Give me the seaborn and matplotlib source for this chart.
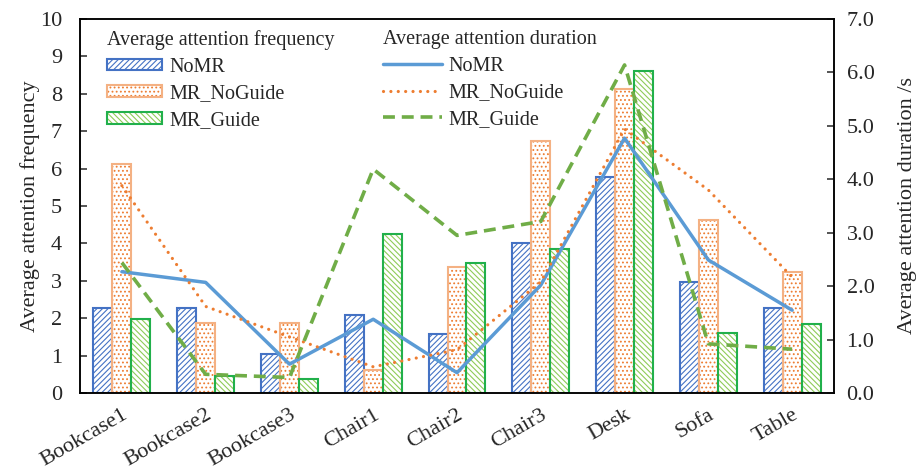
import matplotlib
matplotlib.use("Agg")
import matplotlib.pyplot as plt
import seaborn as sns
import numpy as np
import pandas as pd
from matplotlib.patches import Patch
from matplotlib.lines import Line2D

categories = ["Bookcase1", "Bookcase2", "Bookcase3", "Chair1", "Chair2",
              "Chair3", "Desk", "Sofa", "Table"]
groups = ["NoMR", "MR_NoGuide", "MR_Guide"]

freq_nomr = [2.27, 2.27, 1.04, 2.09, 1.57, 4.02, 5.78, 2.96, 2.26]
freq_noguide = [6.12, 1.86, 1.87, 0.61, 3.38, 6.75, 8.12, 4.62, 3.24]
freq_guide = [1.98, 0.45, 0.37, 4.24, 3.48, 3.86, 8.62, 1.60, 1.84]

dur_nomr = [2.27, 2.07, 0.54, 1.38, 0.38, 2.02, 4.77, 2.49, 1.55]
dur_noguide = [3.88, 1.62, 1.05, 0.49, 0.81, 2.08, 4.94, 3.80, 2.17]
dur_guide = [2.44, 0.35, 0.29, 4.19, 2.95, 3.21, 6.14, 0.92, 0.82]

freq_ticks = list(range(0, 11))
dur_ticks = [0.0, 1.0, 2.0, 3.0, 4.0, 5.0, 6.0, 7.0]

sns.set_theme(style="white")
plt.rcParams["font.family"] = ["Liberation Serif", "DejaVu Serif"]
plt.rcParams["hatch.linewidth"] = 0.8

edge_cols = {"NoMR": "#4472C4", "MR_NoGuide": "#F4B183", "MR_Guide": "#21B04B"}
hatch_cols = {"NoMR": "#4472C4", "MR_NoGuide": "#ED7D31", "MR_Guide": "#8FCB58"}
hatches = {"NoMR": "//////", "MR_NoGuide": "....", "MR_Guide": "\\\\\\\\\\\\"}
line_cols = {"NoMR": "#5B9BD5", "MR_NoGuide": "#ED7D31", "MR_Guide": "#70AD47"}

FS_TICK = 16
FS_LABEL = 16
FS_LEG = 14.5

df = pd.DataFrame({
    "category": categories * 3,
    "group": [g for g in groups for _ in categories],
    "freq": freq_nomr + freq_noguide + freq_guide,
})

fig = plt.figure(figsize=(9.21, 4.76), dpi=100)
ax = fig.add_axes([80 / 921, 1 - 393 / 476, (834 - 80) / 921, (393 - 19) / 476])

# hatch layer
sns.barplot(data=df, x="category", y="freq", hue="group", order=categories,
            hue_order=groups, width=0.68, ax=ax, legend=False, errorbar=None,
            saturation=1)
for cont, g in zip(ax.containers, groups):
    for p in cont:
        p.set_facecolor("white")
        p.set_edgecolor(hatch_cols[g])
        p.set_hatch(hatches[g])
        p.set_linewidth(0)
n_cont = len(ax.containers)
# outline layer
sns.barplot(data=df, x="category", y="freq", hue="group", order=categories,
            hue_order=groups, width=0.68, ax=ax, legend=False, errorbar=None,
            fill=False, saturation=1)
for cont, g in zip(ax.containers[n_cont:], groups):
    for p in cont:
        p.set_edgecolor(edge_cols[g])
        p.set_linewidth(1.5)
        p.set_facecolor("none")

ax.set_ylim(0, 10)
ax.set_xlim(-0.5, len(categories) - 0.5)
ax.set_yticks(freq_ticks)
ax.set_ylabel("Average attention frequency", fontsize=FS_LABEL, labelpad=0)
ax.set_xlabel("")
ax.set_xticks(range(len(categories)))
ax.set_xticklabels(categories, rotation=30, ha="right", rotation_mode="anchor",
                   fontsize=FS_TICK)
ax.tick_params(axis="x", length=0, pad=9)
ax.tick_params(axis="y", direction="in", length=5, width=1.1, labelsize=FS_TICK,
               left=True, pad=13)

ax2 = ax.twinx()
xpos = np.arange(len(categories))
sns.lineplot(x=xpos, y=dur_nomr, ax=ax2, color=line_cols["NoMR"], linewidth=2.5,
             solid_capstyle="round")
sns.lineplot(x=xpos, y=dur_noguide, ax=ax2, color=line_cols["MR_NoGuide"],
             linewidth=2.3, dashes=(0.01, 2.3), dash_capstyle="round")
sns.lineplot(x=xpos, y=dur_guide, ax=ax2, color=line_cols["MR_Guide"],
             linewidth=2.6, dashes=(3.3, 1.9), dash_capstyle="butt")
ax2.set_ylim(0, 7)
ax2.set_yticks(dur_ticks)
ax2.set_yticklabels([f"{t:.1f}" for t in dur_ticks])
ax2.set_ylabel("Average attention duration /s", fontsize=FS_LABEL, labelpad=17)
ax2.tick_params(axis="y", direction="in", length=5, width=1.1, labelsize=FS_TICK,
                right=True, pad=9)
ax2.set_xlim(-0.5, len(categories) - 0.5)

for a in (ax, ax2):
    for s in a.spines.values():
        s.set_visible(True)
        s.set_color("black")
        s.set_linewidth(1.1)

bar_handles = [Patch(facecolor="white", edgecolor=hatch_cols[g], hatch=hatches[g],
                     linewidth=0) for g in groups]
outline_handles = [Patch(facecolor="none", edgecolor=edge_cols[g], linewidth=1.5)
                   for g in groups]
handles1 = [(h, o) for h, o in zip(bar_handles, outline_handles)]
leg1 = ax2.legend(handles1, groups, title="Average attention frequency",
                  loc="upper left", bbox_to_anchor=(0.021, 1.0), frameon=False,
                  fontsize=FS_LEG, title_fontsize=FS_LEG, handlelength=2.75,
                  handleheight=0.5, labelspacing=0.38, handletextpad=0.35,
                  alignment="left", borderaxespad=0.15)
ax2.add_artist(leg1)

line_handles = [
    Line2D([], [], color=line_cols["NoMR"], linewidth=2.5),
    Line2D([], [], color=line_cols["MR_NoGuide"], linewidth=2.3,
           dashes=(0.01, 2.3), dash_capstyle="round"),
    Line2D([], [], color=line_cols["MR_Guide"], linewidth=2.6,
           dashes=(3.3, 1.9)),
]
leg2 = ax2.legend(line_handles, groups, title="Average attention duration",
                  loc="upper left", bbox_to_anchor=(0.387, 1.0), frameon=False,
                  fontsize=FS_LEG, title_fontsize=FS_LEG, handlelength=2.95,
                  labelspacing=0.38, handletextpad=0.3, alignment="left",
                  borderaxespad=0.15)

fig.savefig("out.png", dpi=100)
